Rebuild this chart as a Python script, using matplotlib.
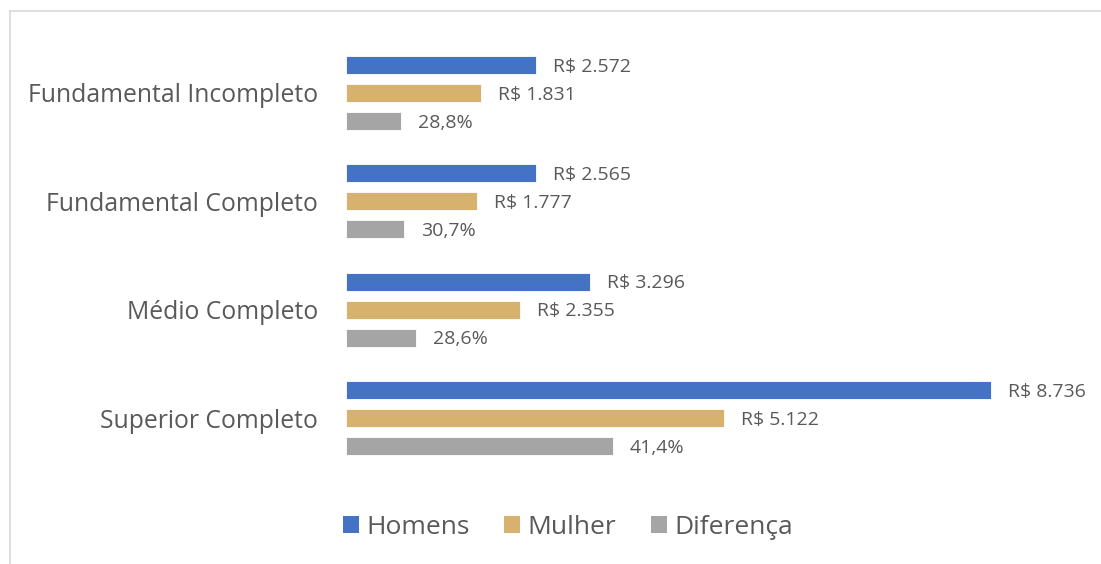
import matplotlib
matplotlib.use("Agg")
import matplotlib.pyplot as plt
from matplotlib.lines import Line2D
from matplotlib.patches import Patch
import numpy as np

categories = ["Fundamental Incompleto", "Fundamental Completo", "Médio Completo", "Superior Completo"]
homens = [2572, 2565, 3296, 8736]
mulher = [1831, 1777, 2355, 5122]
diferenca_pct = ["28,8%", "30,7%", "28,6%", "41,4%"]
homens_labels = ["R$ 2.572", "R$ 2.565", "R$ 3.296", "R$ 8.736"]
mulher_labels = ["R$ 1.831", "R$ 1.777", "R$ 2.355", "R$ 5.122"]
series_names = ["Homens", "Mulher", "Diferença"]

diferenca = [h - m for h, m in zip(homens, mulher)]

colors = ["#4472C4", "#D6B26E", "#A5A5A5"]
text_color = "#595959"
font = "Open Sans"

fig = plt.figure(figsize=(11.01, 5.64), dpi=100)
ax = fig.add_axes([346 / 1101, 0.1627, 665 / 1101, 0.7686])

y = np.arange(len(categories))
off = 0.258
h = 0.166
series = [homens, mulher, diferenca]
labels = [homens_labels, mulher_labels, diferenca_pct]
for k, (vals, labs) in enumerate(zip(series, labels)):
    yy = y + (k - 1) * off
    ax.barh(yy, vals, height=h, color=colors[k], edgecolor="white", linewidth=0.6)
    for yv, v, lab in zip(yy, vals, labs):
        ax.text(v + 230, yv + 0.015, lab, va="center", ha="left", fontsize=14,
                color=text_color, family=font, clip_on=False)

ax.set_xlim(0, 9000)
ax.set_ylim(3.5, -0.5)
ax.set_yticks(y)
ax.set_yticklabels(categories, fontsize=17.8, color=text_color, family=font)
ax.tick_params(axis="y", length=0, pad=20)
ax.set_xticks([])
for s in ax.spines.values():
    s.set_visible(False)

handles = [Patch(facecolor=c, edgecolor="none") for c in colors]
leg = fig.legend(handles, series_names, loc="center", bbox_to_anchor=(568 / 1101, 1 - 527 / 564),
                 ncol=3, frameon=False, handlelength=0.6, handleheight=0.6, handletextpad=0.3,
                 columnspacing=1.3, prop={"family": font, "size": 19})
for t in leg.get_texts():
    t.set_color(text_color)

# outer chart border (partial)
fig.add_artist(Line2D([10 / 1101, 10 / 1101], [0, 1 - 11 / 564], color="#D9D9D9", lw=1.2,
                      transform=fig.transFigure))
fig.add_artist(Line2D([10 / 1101, 1], [1 - 11 / 564, 1 - 11 / 564], color="#D9D9D9", lw=1.2,
                      transform=fig.transFigure))

fig.savefig("out.png", dpi=100)
